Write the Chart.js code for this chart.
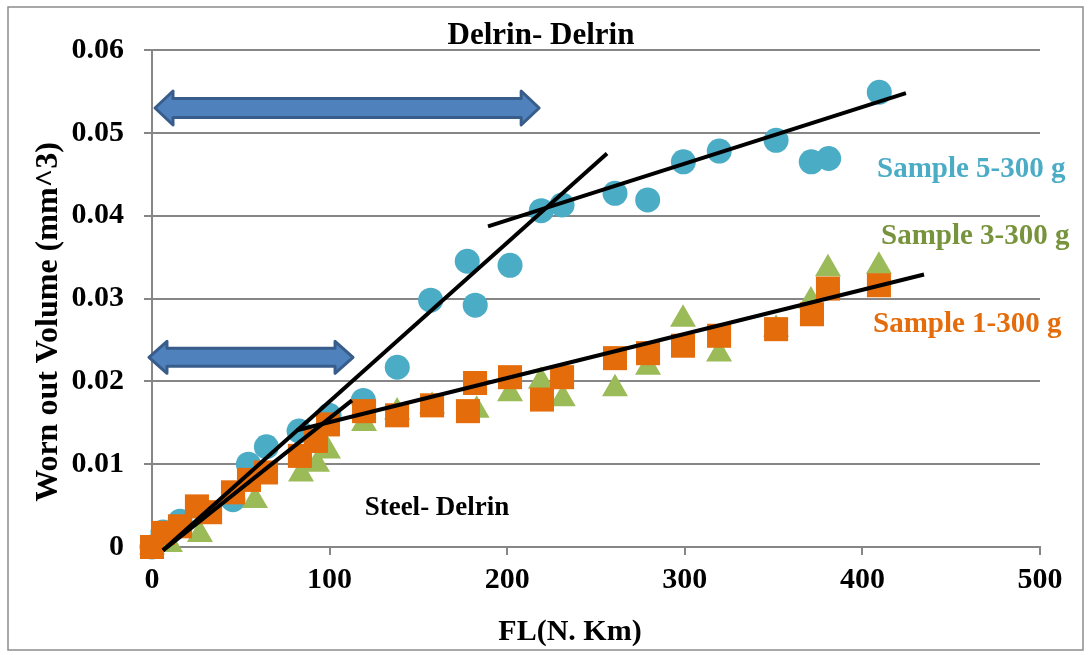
<!DOCTYPE html>
<html>
<head>
<meta charset="utf-8">
<script src="https://cdn.jsdelivr.net/npm/chart.js@4.4.1/dist/chart.umd.min.js"></script>
<style>
  body { margin: 0; background: #fff; }
  canvas { display: block; }
</style>
</head>
<body>
<canvas id="wearChart" width="1090" height="655"></canvas>
<script>
// Worn out volume vs FL

// Sample 5-300 g (circles)
const s5_fl = [0, 6.2, 15.8, 45.6, 54.3, 64.4, 82.8, 99.7, 119, 138.1, 156.9, 177.5, 182, 201.6, 219.2, 230.9, 260.7, 279.1, 299.2, 319.4, 351.4, 371.2, 381, 409.5];
const s5_vol = [0, 0.0018, 0.0031, 0.0057, 0.0100, 0.0121, 0.0140, 0.0159, 0.0177, 0.0217, 0.0298, 0.0345, 0.0292, 0.0340, 0.0406, 0.0413, 0.0427, 0.0419, 0.0465, 0.0478, 0.0491, 0.0465, 0.0469, 0.0549];

// Sample 3-300 g (triangles)
const s3_fl = [0, 10.1, 27, 58, 83.9, 92.9, 99.1, 119.4, 138, 157.7, 182.8, 201.6, 219, 231.3, 260.7, 279.3, 299, 319.3, 351.4, 371, 380.6, 409.3];
const s3_vol = [0, 0.0003, 0.0015, 0.0056, 0.0088, 0.0100, 0.0116, 0.0149, 0.0163, 0.0170, 0.0165, 0.0185, 0.0200, 0.0179, 0.0191, 0.0217, 0.0275, 0.0233, 0.0263, 0.0297, 0.0336, 0.0339];

// Sample 1-300 g (squares)
const s1_fl = [0, 6.2, 15.8, 25.3, 32.7, 45.6, 54.6, 64.2, 83.3, 92.3, 99.1, 119.4, 138, 157.7, 177.9, 181.9, 201.6, 219.6, 230.9, 260.7, 279.3, 299, 319.3, 351.4, 371.6, 380.6, 409.3];
const s1_vol = [0, 0.0017, 0.0025, 0.0049, 0.0042, 0.0066, 0.0081, 0.0090, 0.0110, 0.0128, 0.0148, 0.0164, 0.0159, 0.0171, 0.0164, 0.0198, 0.0205, 0.0178, 0.0205, 0.0228, 0.0234, 0.0243, 0.0255, 0.0263, 0.0281, 0.0312, 0.0316];

// hand drawn trend lines: [x1, y1, x2, y2]
const trend_lines = [
  [6.2, -0.0004, 256.2, 0.0475],
  [189.2, 0.0387, 424.5, 0.0548],
  [6.2, -0.0004, 112.6, 0.0177],
  [81.6, 0.0141, 434.7, 0.0329]
];

// double arrows: [xFrom, xTo, y]
const arrows = [
  [1.7, 218, 0.0530],
  [-1.7, 113.2, 0.0229]
];

const x_ticks = [0, 100, 200, 300, 400, 500];
const y_ticks = [0, 0.01, 0.02, 0.03, 0.04, 0.05, 0.06];

const colors = {
  s5: '#4BACC6',
  s3: '#9BBB59',
  s3text: '#77933C',
  s1: '#E46C0A',
  grid: '#868686',
  arrowFill: '#4F81BD',
  arrowEdge: '#385D8A'
};

const serif = '"Liberation Serif", "Times New Roman", serif';

const pts = (xs, ys) => xs.map((x, i) => ({ x: x, y: ys[i] }));

const trendSets = trend_lines.map(l => ({
  data: [{ x: l[0], y: l[1] }, { x: l[2], y: l[3] }],
  showLine: true,
  borderColor: '#000',
  borderWidth: 4,
  pointRadius: 0,
  clip: false,
  order: 0
}));

// extra texts and arrows
const annotations = {
  id: 'annotations',
  beforeDraw(chart) {
    const ctx = chart.ctx;
    ctx.save();
    ctx.fillStyle = '#fff';
    ctx.fillRect(0, 0, chart.width, chart.height);
    ctx.strokeStyle = '#8c8c8c';
    ctx.lineWidth = 1.5;
    ctx.strokeRect(8, 7, 1075, 643);
    ctx.restore();
  },
  afterDraw(chart) {
    const ctx = chart.ctx;
    const xs = chart.scales.x, ys = chart.scales.y;
    ctx.save();

    arrows.forEach((a, i) => {
      const x1 = xs.getPixelForValue(a[0]);
      const x2 = xs.getPixelForValue(a[1]);
      const y = ys.getPixelForValue(a[2]);
      const headH = i === 0 ? 34 : 32;
      const shaftH = i === 0 ? 19 : 18;
      const headL = 18;
      ctx.beginPath();
      ctx.moveTo(x1, y);
      ctx.lineTo(x1 + headL, y - headH / 2);
      ctx.lineTo(x1 + headL, y - shaftH / 2);
      ctx.lineTo(x2 - headL, y - shaftH / 2);
      ctx.lineTo(x2 - headL, y - headH / 2);
      ctx.lineTo(x2, y);
      ctx.lineTo(x2 - headL, y + headH / 2);
      ctx.lineTo(x2 - headL, y + shaftH / 2);
      ctx.lineTo(x1 + headL, y + shaftH / 2);
      ctx.lineTo(x1 + headL, y + headH / 2);
      ctx.closePath();
      ctx.fillStyle = colors.arrowFill;
      ctx.fill();
      ctx.strokeStyle = colors.arrowEdge;
      ctx.lineWidth = 3;
      ctx.lineJoin = 'round';
      ctx.stroke();
    });

    ctx.textBaseline = 'middle';
    ctx.textAlign = 'center';
    ctx.fillStyle = '#000';
    ctx.font = 'bold 31px ' + serif;
    ctx.fillText('Delrin- Delrin', 541, 36);
    ctx.font = 'bold 27px ' + serif;
    ctx.fillText('Steel- Delrin', 437, 508);

    // axis titles
    ctx.font = 'bold 30px ' + serif;
    ctx.fillText('FL(N. Km)', 570, 632);
    ctx.save();
    ctx.translate(49, 322);
    ctx.rotate(-Math.PI / 2);
    ctx.font = 'bold 32px ' + serif;
    ctx.fillText('Worn out Volume (mm^3)', 0, 0);
    ctx.restore();

    ctx.textAlign = 'left';
    ctx.font = 'bold 29px ' + serif;
    ctx.fillStyle = colors.s5;
    ctx.fillText('Sample 5-300 g', 877, 170);
    ctx.fillStyle = colors.s3text;
    ctx.fillText('Sample 3-300 g', 881, 237);
    ctx.fillStyle = colors.s1;
    ctx.fillText('Sample 1-300 g', 873, 325);
    ctx.restore();
  }
};

new Chart(document.getElementById('wearChart'), {
  type: 'scatter',
  data: {
    datasets: [
      {
        label: 'Sample 1-300 g',
        data: pts(s1_fl, s1_vol),
        pointStyle: 'rect',
        pointRadius: 17,
        pointBackgroundColor: colors.s1,
        pointBorderWidth: 0,
        clip: false,
        order: 1
      },
      {
        label: 'Sample 3-300 g',
        data: pts(s3_fl, s3_vol),
        pointStyle: 'triangle',
        pointRadius: 15,
        pointBackgroundColor: colors.s3,
        pointBorderWidth: 0,
        clip: false,
        order: 2
      },
      {
        label: 'Sample 5-300 g',
        data: pts(s5_fl, s5_vol),
        pointStyle: 'circle',
        pointRadius: 12.5,
        pointBackgroundColor: colors.s5,
        pointBorderWidth: 0,
        clip: false,
        order: 3
      },
      ...trendSets
    ]
  },
  options: {
    responsive: false,
    animation: false,
    events: [],
    layout: { padding: { top: 50, right: 50, left: 0, bottom: 0 } },
    plugins: {
      legend: { display: false },
      tooltip: { enabled: false }
    },
    scales: {
      x: {
        type: 'linear',
        min: 0,
        max: 500,
        afterFit: s => { s.height = 108; },
        afterBuildTicks: s => { s.ticks = x_ticks.map(v => ({ value: v })); },
        ticks: {
          color: '#000',
          padding: 7,
          font: { family: serif, size: 30, weight: 'bold' }
        },
        grid: { drawOnChartArea: false, color: colors.grid, lineWidth: 2, tickLength: 8 },
        border: { color: colors.grid, width: 2 }
      },
      y: {
        min: 0,
        max: 0.06,
        afterFit: s => { s.width = 152; },
        afterBuildTicks: s => { s.ticks = y_ticks.map(v => ({ value: v })); },
        ticks: {
          color: '#000',
          padding: 20,
          font: { family: serif, size: 30, weight: 'bold' },
          callback: v => (v === 0 ? '0' : v.toFixed(2))
        },
        grid: { color: colors.grid, lineWidth: 2, tickLength: 8 },
        border: { color: colors.grid, width: 2 }
      }
    }
  },
  plugins: [annotations]
});
</script>
</body>
</html>
